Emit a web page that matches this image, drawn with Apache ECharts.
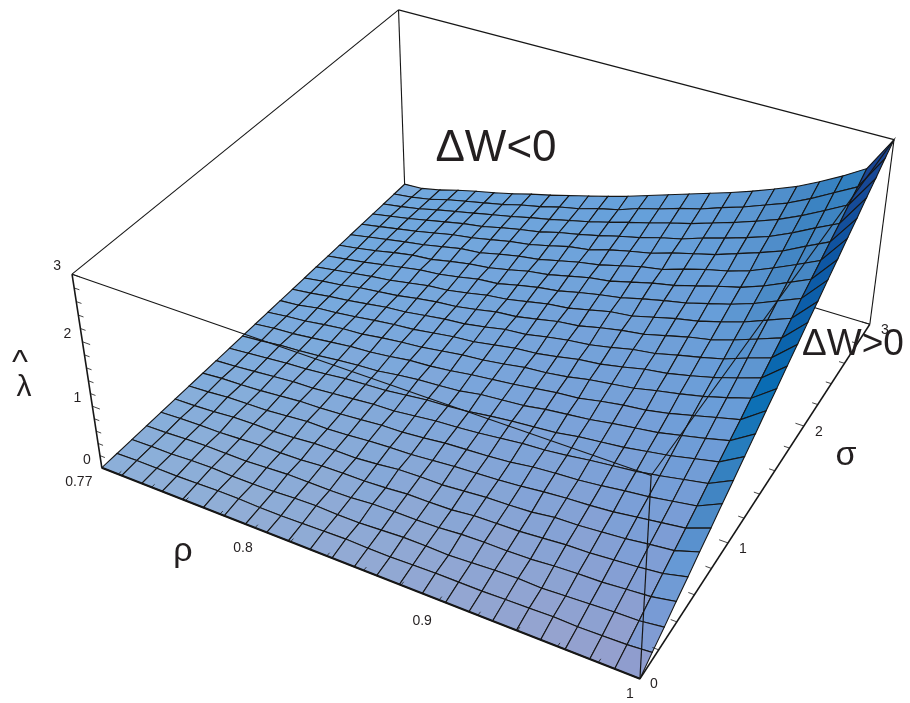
<!DOCTYPE html>
<html>
<head>
<meta charset="utf-8">
<title>surface</title>
<style>
html, body { margin: 0; padding: 0; background: #fff; }
#main { width: 910px; height: 703px; }
</style>
<script src="https://cdn.jsdelivr.net/npm/echarts@6/dist/echarts.min.js"></script>
</head>
<body>
<div id="main"></div>
<script>
// axis ranges and tick labels
var rhoRange = [0.71, 1];
var sigmaRange = [0, 3];
var lambdaRange = [0, 3];
var rhoTicks = [0.71, 0.8, 0.9, 1];
var rhoTickLabels = ['0.77', '0.8', '0.9', '1'];
var sigmaTicks = [0, 1, 2, 3];
var lambdaTicks = [0, 1, 2, 3];

// lambda-hat on the mesh: one row per sigma step (0 .. 3), one column per rho step
var lambdaRows = [
  [0,0,0,0,0,0,0,0,0,0,0,0,0,0,0,0,0,0,0,0,0,0,0,0,0],
  [0,.01,.01,.01,.02,.03,.03,.02,.02,.03,.04,.05,.04,.04,.05,.06,.06,.06,.07,.08,.09,.08,.09,.10,.13],
  [0,.01,.01,.03,.04,.03,.03,.04,.06,.07,.06,.06,.08,.10,.10,.09,.11,.13,.14,.13,.15,.17,.19,.20,.25],
  [0,.01,.03,.04,.04,.04,.06,.08,.08,.08,.09,.12,.13,.13,.14,.17,.18,.18,.19,.22,.24,.25,.28,.31,.38],
  [0,.02,.03,.03,.05,.07,.07,.08,.11,.12,.12,.14,.17,.17,.18,.22,.23,.24,.27,.30,.31,.34,.37,.41,.50],
  [0,.01,.03,.06,.07,.07,.09,.12,.13,.13,.16,.20,.21,.21,.24,.27,.28,.30,.35,.36,.39,.42,.47,.51,.63],
  [0,.02,.05,.06,.07,.10,.13,.13,.15,.18,.20,.21,.24,.27,.29,.31,.34,.38,.41,.43,.46,.51,.56,.61,.75],
  [0,.03,.04,.06,.09,.12,.13,.15,.18,.21,.22,.25,.29,.31,.33,.36,.41,.44,.46,.50,.55,.59,.65,.71,.88],
  [0,.02,.05,.08,.11,.12,.15,.18,.21,.22,.26,.30,.32,.35,.39,.43,.45,.49,.54,.58,.62,.68,.75,.82,1.0],
  [0,.03,.06,.09,.11,.14,.18,.20,.22,.26,.30,.32,.35,.40,.44,.47,.50,.56,.60,.64,.70,.76,.84,.92,1.13],
  [0,.03,.07,.09,.12,.16,.19,.21,.26,.30,.32,.35,.41,.44,.47,.53,.57,.61,.67,.72,.77,.85,.93,1.02,1.25],
  [0,.04,.06,.10,.14,.18,.20,.24,.29,.31,.35,.40,.44,.48,.53,.58,.61,.68,.74,.78,.85,.94,1.03,1.12,1.38],
  [0,.04,.07,.12,.16,.18,.23,.27,.30,.35,.40,.43,.48,.54,.57,.62,.69,.74,.79,.87,.94,1.02,1.12,1.23,1.50],
  [0,.03,.09,.12,.16,.21,.25,.28,.33,.38,.41,.47,.53,.56,.62,.69,.73,.80,.88,.93,1.01,1.10,1.21,1.33,1.63],
  [0,.04,.09,.13,.18,.23,.26,.31,.36,.39,.45,.52,.55,.62,.68,.72,.79,.87,.92,1.01,1.09,1.18,1.31,1.43,1.75],
  [0,.05,.09,.15,.19,.23,.29,.34,.37,.43,.50,.53,.60,.67,.71,.79,.86,.91,1.00,1.09,1.16,1.27,1.40,1.53,1.88],
  [0,.05,.10,.15,.19,.25,.31,.34,.40,.47,.51,.58,.65,.69,.77,.85,.89,.98,1.07,1.14,1.24,1.35,1.49,1.63,2.0],
  [0,.05,.10,.16,.22,.28,.31,.37,.44,.47,.55,.62,.67,.75,.82,.88,.97,1.05,1.12,1.22,1.32,1.44,1.59,1.74,2.13],
  [0,.05,.11,.18,.24,.27,.34,.40,.44,.51,.59,.64,.72,.80,.85,.94,1.03,1.10,1.20,1.30,1.39,1.52,1.68,1.84,2.25],
  [0,.06,.12,.18,.23,.30,.37,.40,.48,.55,.60,.68,.76,.82,.91,1.00,1.06,1.17,1.27,1.35,1.46,1.61,1.77,1.94,2.38],
  [0,.06,.12,.18,.25,.32,.37,.44,.51,.56,.64,.73,.78,.88,.96,1.03,1.14,1.23,1.32,1.44,1.56,1.69,1.87,2.04,2.50],
  [0,.06,.12,.19,.26,.33,.38,.46,.53,.59,.68,.75,.83,.92,1.00,1.10,1.18,1.30,1.40,1.51,1.63,1.79,1.97,2.14,2.63],
  [0,.05,.11,.19,.26,.33,.40,.47,.55,.62,.70,.78,.87,.97,1.06,1.16,1.25,1.36,1.47,1.59,1.72,1.88,2.06,2.25,2.75],
  [0,.04,.10,.19,.26,.33,.40,.49,.56,.65,.72,.82,.90,1.02,1.11,1.22,1.31,1.43,1.54,1.67,1.80,1.97,2.16,2.35,2.88],
  [0,.02,.09,.18,.26,.33,.41,.50,.58,.67,.76,.85,.95,1.06,1.17,1.28,1.39,1.50,1.62,1.75,1.89,2.06,2.25,2.46,3.0]
];

var lineColor = '#161616';
var textColor = '#231f20';
var font = '"Liberation Sans", Arial, sans-serif';

// box corners on the page, used to fit the camera: [t, s, w, x, y]
var boxFit = [
  [0,0,0,102,468],[1,0,0,639,679],[1,1,0,870,324],[0,1,0,405,184],
  [0,0,1,72,274],[1,0,1,652,475],[1,1,1,894,140],[0,1,1,398,10]
];

function solve(A, b){
    var n = b.length;
    for(var c = 0; c < n; c++){
        var p = c;
        for(var r = c + 1; r < n; r++) if(Math.abs(A[r][c]) > Math.abs(A[p][c])) p = r;
        var tmp = A[c]; A[c] = A[p]; A[p] = tmp;
        tmp = b[c]; b[c] = b[p]; b[p] = tmp;
        for(r = c + 1; r < n; r++){
            var f = A[r][c] / A[c][c];
            for(var k = c; k < n; k++) A[r][k] -= f * A[c][k];
            b[r] -= f * b[c];
        }
    }
    var x = [];
    for(var i = n - 1; i >= 0; i--){
        var s = b[i];
        for(var j = i + 1; j < n; j++) s -= A[i][j] * x[j];
        x[i] = s / A[i][i];
    }
    return x;
}

// least squares fit of a projective camera to the 8 corners
function fitCamera(){
    var rows = [], rhs = [];
    boxFit.forEach(function(c){
        var t = c[0], s = c[1], w = c[2], x = c[3], y = c[4];
        rows.push([t,s,w,1,0,0,0,0,-x*t,-x*s,-x*w]); rhs.push(x);
        rows.push([0,0,0,0,t,s,w,1,-y*t,-y*s,-y*w]); rhs.push(y);
    });
    var N = [], v = [];
    for(var i = 0; i < 11; i++){
        N.push([]);
        v[i] = 0;
        for(var j = 0; j < 11; j++){
            var sum = 0;
            for(var r = 0; r < rows.length; r++) sum += rows[r][i] * rows[r][j];
            N[i][j] = sum;
        }
        for(r = 0; r < rows.length; r++) v[i] += rows[r][i] * rhs[r];
    }
    return solve(N, v);
}
var cam = fitCamera();

function project(rho, sigma, lambda){
    var t = (rho - rhoRange[0]) / (rhoRange[1] - rhoRange[0]);
    var s = (sigma - sigmaRange[0]) / (sigmaRange[1] - sigmaRange[0]);
    var w = (lambda - lambdaRange[0]) / (lambdaRange[1] - lambdaRange[0]);
    var d = cam[8]*t + cam[9]*s + cam[10]*w + 1;
    return [(cam[0]*t + cam[1]*s + cam[2]*w + cam[3]) / d,
            (cam[4]*t + cam[5]*s + cam[6]*w + cam[7]) / d];
}

// the mesh covers the whole rho axis
var nRho = lambdaRows[0].length, nSigma = lambdaRows.length;
function rhoAt(i){ return rhoRange[0] + (rhoRange[1] - rhoRange[0]) * i / (nRho - 1); }
function sigmaAt(j){ return sigmaRange[0] + (sigmaRange[1] - sigmaRange[0]) * j / (nSigma - 1); }

// cells, back to front
var cells = [];
for(var j = nSigma - 2; j >= 0; j--){
    for(var i = 0; i < nRho - 1; i++) cells.push([i, j]);
}

// shade by slope of the cell, wiggles in the mesh should not show in the colour
var ramp = [
  [0,[143,176,216]],[1,[120,170,222]],[2.4,[100,164,221]],[4,[68,138,198]],
  [6.5,[10,110,180]],[10,[13,88,165]],[13,[26,68,146]]
];
function cellColor(i, j){
    var z = lambdaRows;
    var p = ((z[j][i+1] - z[j][i]) + (z[j+1][i+1] - z[j+1][i])) / 2 * (nRho - 1);
    if(i > 0 && i < nRho - 4){
        // smooth over three columns
        p = ((z[j][i+2] - z[j][i-1]) + (z[j+1][i+2] - z[j+1][i-1])) / 6 * (nRho - 1);
    }
    var q = (z[nSigma-1][i] + z[nSigma-1][i+1]) / 6;
    var c = ramp[ramp.length - 1][1];
    for(var k = 0; k < ramp.length - 1; k++){
        if(p <= ramp[k+1][0]){
            var f = (p - ramp[k][0]) / (ramp[k+1][0] - ramp[k][0]);
            c = [0,1,2].map(function(n){ return ramp[k][1][n] + (ramp[k+1][1][n] - ramp[k][1][n]) * f; });
            break;
        }
    }
    var fade = Math.max(0, 1 - p / 5);
    return 'rgb(' + Math.round(c[0] + 10*q*fade) + ',' + Math.round(c[1] - 20*q*fade) + ',' + Math.round(c[2] - 14*q*fade) + ')';
}

var rMin = rhoRange[0], rMax = rhoRange[1], sMin = sigmaRange[0], sMax = sigmaRange[1], zMin = lambdaRange[0], zMax = lambdaRange[1];
var backEdges = [
  [[rMin,sMax,zMin],[rMax,sMax,zMin],1.1],
  [[rMin,sMax,zMin],[rMin,sMax,zMax],1.1],
  [[rMin,sMax,zMax],[rMax,sMax,zMax],1.1],
  [[rMin,sMin,zMax],[rMin,sMax,zMax],1.1],
  [[rMax,sMax,zMin],[rMax,sMax,zMax],1.1]
];
var frontEdges = [
  [[rMin,sMin,zMin],[rMin,sMin,zMax],1.6],
  [[rMin,sMin,zMin],[rMax,sMin,zMin],2],
  [[rMax,sMin,zMin],[rMax,sMax,zMin],1.5],
  [[rMin,sMin,zMax],[rMax,sMin,zMax],1.1],
  [[rMax,sMin,zMin],[rMax,sMin,zMax],1.2],
  [[rMax,sMin,zMax],[rMax,sMax,zMax],1.1]
];

// small tick marks along the three drawn axes
var tickSegs = [];
for(var v = 0.72; v < 1; v += 0.02){
    tickSegs.push([[v,sMin,zMin],[v,sMin + 0.025,zMin],0.8]);
}
for(v = 0; v <= 3.001; v += 0.2){
    var major = Math.abs(v - Math.round(v)) < 0.01 ? 1.5 : 1;
    tickSegs.push([[rMax,v,zMin],[rMax - 0.003*major,v,zMin],0.8]);
    tickSegs.push([[rMin,sMin,v],[rMin + 0.003*major,sMin,v],0.8]);
}

function edgeSeries(edges, z){
    return {
        type: 'custom',
        coordinateSystem: 'cartesian2d',
        silent: true,
        z: z,
        data: edges.map(function(e, k){ return [k, 0]; }),
        renderItem: function(params, api){
            var e = edges[api.value(0)];
            var a = api.coord(project.apply(null, e[0]));
            var b = api.coord(project.apply(null, e[1]));
            return {
                type: 'line',
                shape: {x1: a[0], y1: a[1], x2: b[0], y2: b[1]},
                style: {stroke: lineColor, lineWidth: e[2], fill: null}
            };
        }
    };
}

// tick labels: [text, rho, sigma, lambda, dx, dy]
var tickTexts = [];
rhoTicks.forEach(function(r, k){
    var dx = [-23, -12, -17, -10][k], dy = [14, 20, 21, 15][k];
    tickTexts.push([rhoTickLabels[k], r, sMin, zMin, dx, dy]);
});
sigmaTicks.forEach(function(s, k){
    var dx = [14, 15, 15, 15][k], dy = [5, 6, 6, 6][k];
    tickTexts.push([String(s), rMax, s, zMin, dx, dy]);
});
lambdaTicks.forEach(function(l){
    tickTexts.push([String(l), rMin, sMin, l, -15, -8]);
});

var chart = echarts.init(document.getElementById('main'), null, {renderer: 'canvas'});
chart.setOption({
    animation: false,
    backgroundColor: '#fff',
    grid: {left: 0, right: 0, top: 0, bottom: 0},
    xAxis: {type: 'value', min: 0, max: 910, show: false},
    yAxis: {type: 'value', min: 0, max: 703, inverse: true, show: false},
    series: [
        edgeSeries(backEdges, 1),
        {
            type: 'custom',
            coordinateSystem: 'cartesian2d',
            silent: true,
            z: 2,
            progressive: 0,
            data: cells,
            renderItem: function(params, api){
                var i = api.value(0), j = api.value(1);
                var pts = [[i,j],[i+1,j],[i+1,j+1],[i,j+1]].map(function(n){
                    return api.coord(project(rhoAt(n[0]), sigmaAt(n[1]), lambdaRows[n[1]][n[0]]));
                });
                return {
                    type: 'polygon',
                    shape: {points: pts},
                    style: {fill: cellColor(i, j), stroke: lineColor, lineWidth: 1.1}
                };
            }
        },
        edgeSeries(frontEdges.concat(tickSegs), 3),
        {
            type: 'custom',
            coordinateSystem: 'cartesian2d',
            silent: true,
            z: 4,
            data: tickTexts.map(function(t, k){ return [k, 0]; }),
            renderItem: function(params, api){
                var t = tickTexts[api.value(0)];
                var p = api.coord(project(t[1], t[2], t[3]));
                return {
                    type: 'text',
                    style: {
                        x: p[0] + t[4], y: p[1] + t[5], text: t[0],
                        font: '14px ' + font, fill: textColor,
                        textAlign: 'center', textVerticalAlign: 'middle'
                    }
                };
            }
        }
    ],
    graphic: [
        {type: 'text', x: 496, y: 149, z: 10, style: {text: 'ΔW<0', font: '44px ' + font, fill: textColor, textAlign: 'center', textVerticalAlign: 'middle'}},
        {type: 'text', x: 853, y: 345, z: 10, style: {text: 'ΔW>0', font: '37px ' + font, fill: textColor, textAlign: 'center', textVerticalAlign: 'middle'}},
        {type: 'text', x: 183, y: 552, z: 10, style: {text: 'ρ', font: '34px ' + font, fill: textColor, textAlign: 'center', textVerticalAlign: 'middle'}},
        {type: 'text', x: 846, y: 456, z: 10, style: {text: 'σ', font: '34px ' + font, fill: textColor, textAlign: 'center', textVerticalAlign: 'middle'}},
        {type: 'text', x: 24, y: 388, z: 10, style: {text: 'λ', font: '30px ' + font, fill: textColor, textAlign: 'center', textVerticalAlign: 'middle'}},
        {type: 'text', x: 20, y: 364, z: 10, style: {text: '^', font: '34px ' + font, fill: textColor, textAlign: 'center', textVerticalAlign: 'middle'}}
    ]
});
</script>
</body>
</html>
